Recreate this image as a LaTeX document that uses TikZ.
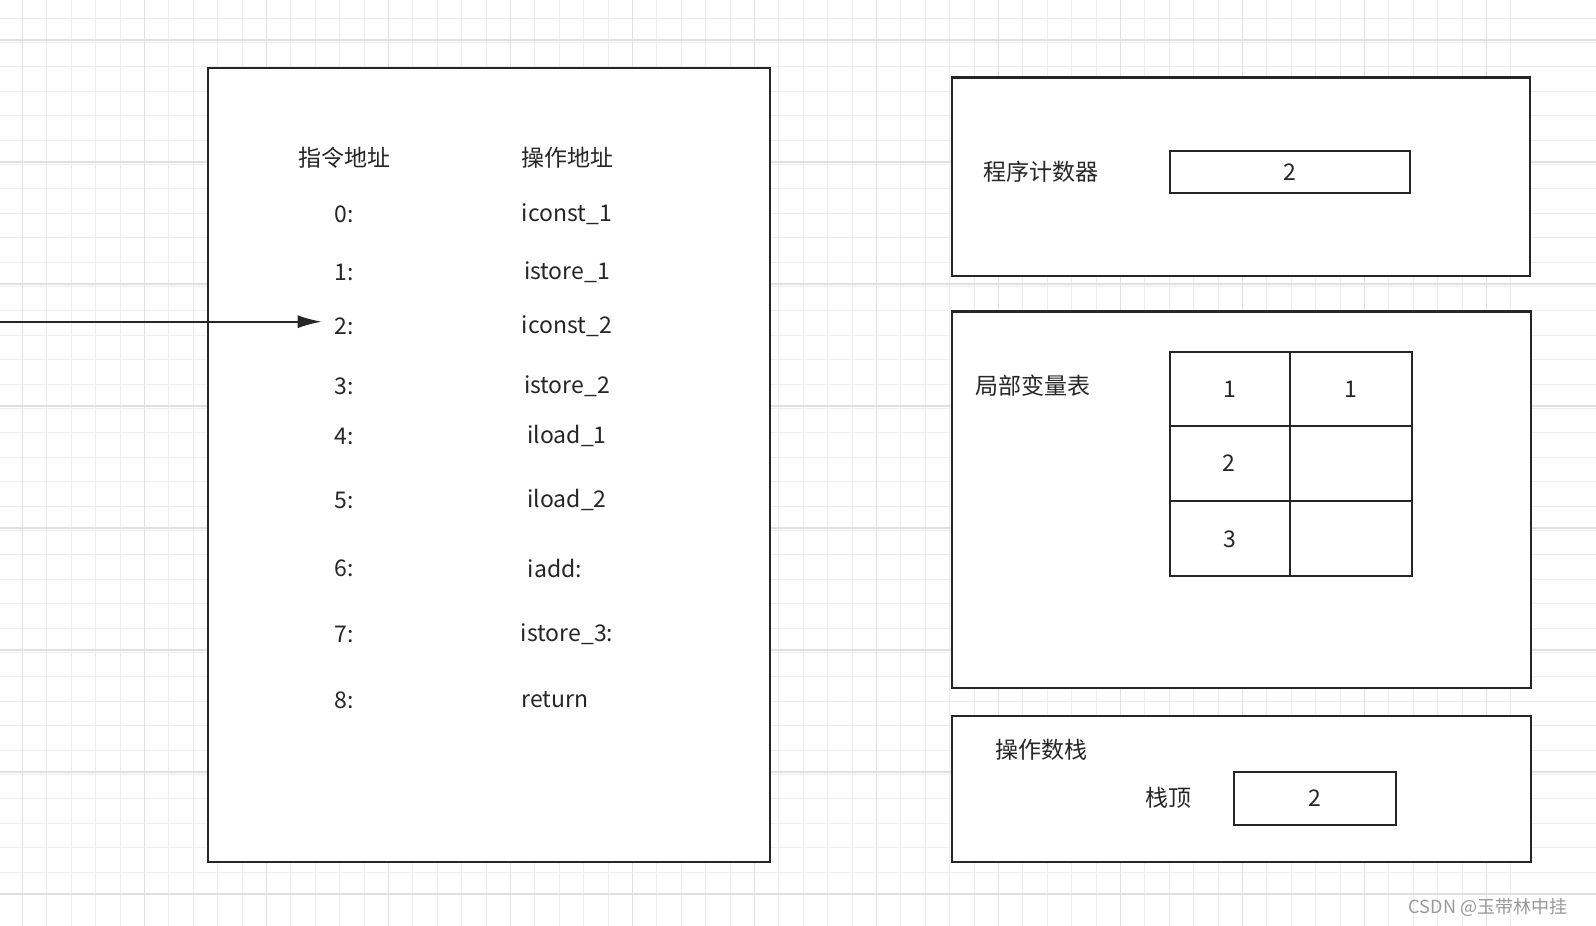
\documentclass[tikz,border=0pt]{standalone}
\usepackage{fontspec}
\setmainfont{Noto Sans CJK SC}
\usetikzlibrary{arrows.meta}
\begin{document}
\begin{tikzpicture}[x=1pt,y=-1pt,
  box/.style={draw=black!85,line width=2.2pt},
  cell/.style={draw=black!85,line width=2pt},
  txt/.style={font=\fontsize{23}{26}\selectfont,text=black!85,inner sep=0pt},
  minorg/.style={draw=black!7,line width=0.8pt},
  majorg/.style={draw=black!12,line width=1.2pt}]
\useasboundingbox (0,0) rectangle (1596,926);
\fill[white] (0,0) rectangle (1596,926);
\foreach \i in {0,...,66} {\draw[minorg] ({22.4+24.4*\i-24.4*5},0) -- ++(0,926);}
\foreach \i in {0,...,40} {\draw[minorg] (0,{18+24.4*\i-24.4*5}) -- ++(1596,0);}
\foreach \i in {0,...,13} {\draw[majorg] ({22.4+122*\i},0) -- ++(0,926);}
\foreach \i in {0,...,8} {\draw[majorg] (0,{40+122*\i}) -- ++(1596,0);}

\draw[box,fill=white] (207.7,68.2) rectangle (769.6,862.3);
\draw[box,fill=white] (951.8,77.4) rectangle (1530,275.9);
\draw[box,fill=white] (951.8,311.5) rectangle (1531,688.2);
\draw[box,fill=white] (951.8,715.7) rectangle (1531,862.3);

\node[txt] (h1) at (344,158) {指令地址};
\node[txt] (h2) at (567,158) {操作地址};
\foreach \n/\a/\b/\y/\x in {0/0:/iconst\_1/214/567,1/1:/istore\_1/272/567,2/2:/iconst\_2/326/567,3/3:/istore\_2/386/567,4/4:/iload\_1/436/567,5/5:/iload\_2/500/567,6/6:/iadd:/568/555,7/7:/istore\_3:/634/567,8/8:/return/700/555}{
  \node[txt] (a\n) at (344,\y) {\a};
  \node[txt] (b\n) at (\x,\y) {\b};
}
\coordinate (src) at (0,321.7);
\draw[line width=1.8pt,black!85,-{Latex[length=24pt,width=13pt]}] (src) -- (321.7,321.7);

\node[txt] (pc) at (1041,172) {程序计数器};
\node[cell,txt,minimum width=240pt,minimum height=42.7pt] (pcv) at (1289.8,172) {2};

\node[txt] (lv) at (1033,386) {局部变量表};
\foreach \r/\ya/\yb in {0/352.2/425.5,1/425.5/500.9,2/500.9/576.2}{
  \draw[cell] (1169.7,\ya) rectangle (1289.8,\yb);
  \draw[cell] (1289.8,\ya) rectangle (1412,\yb);
}
\node[txt] (c11) at (1230,389) {1};
\node[txt] (c12) at (1351,389) {1};
\node[txt] (c21) at (1229,463) {2};
\node[txt] (c31) at (1230,539) {3};

\node[txt] (os) at (1041,750) {操作数栈};
\node[txt] (top) at (1168,798) {栈顶};
\node[cell,txt,minimum width=162pt,minimum height=53pt] (topv) at (1314.7,798) {2};

\node[font=\fontsize{18}{20}\selectfont,text=black!40,inner sep=0pt] (wm) at (1488,907) {CSDN @玉带林中挂};
\end{tikzpicture}
\end{document}
